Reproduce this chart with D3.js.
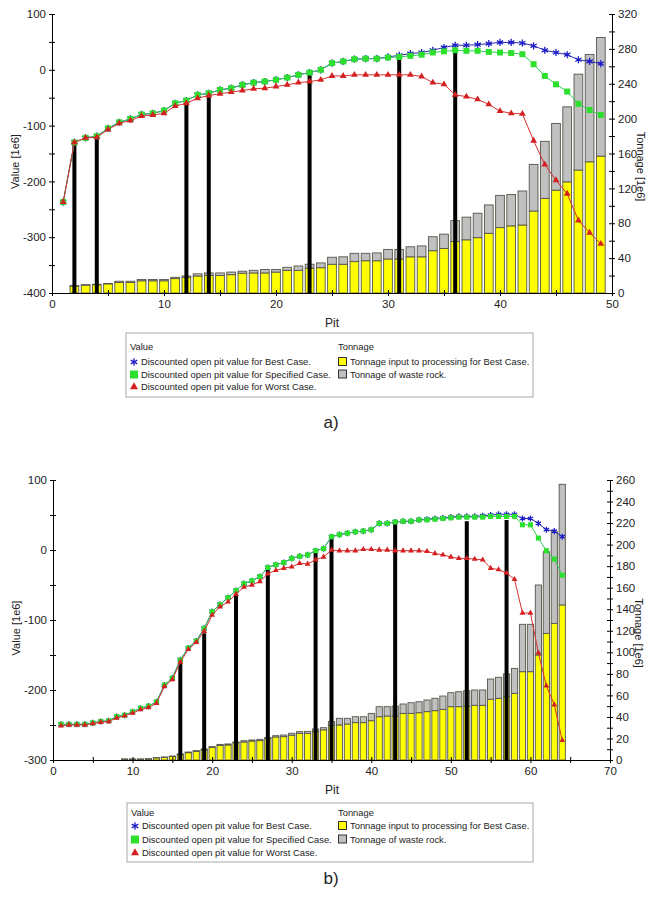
<!DOCTYPE html>
<html>
<head>
<meta charset="utf-8">
<script src="https://cdn.jsdelivr.net/npm/d3@7"></script>
<style>
  body { margin: 0; background: #fff; }
  svg { display: block; }
  text { font-family: "Liberation Sans", Arial, sans-serif; fill: #222; }
</style>
</head>
<body>
<svg id="fig" width="647" height="897"></svg>
<script>
// ---------- Panel a) : 49 pits ----------
const pitsA = d3.range(1, 50);
const bestA = [-237,-130,-122,-119,-105,-94,-88,-80,-78,-73,
               -60,-55,-45,-42,-36,-33,-27,-23,-21,-18,
               -14,-9,-5,0,12,15,19,20,20,23,
               26,29,31,35,40,44,44,45,47,49,
               49,48,43,35,31,27,18,15,11];
const specA = [-237,-130,-122,-119,-105,-94,-88,-80,-78,-73,
               -60,-55,-45,-42,-36,-33,-27,-23,-21,-18,
               -14,-9,-5,0,12,15,19,20,20,22,
               23,25,27,31,33,35,34,34,32,31,
               30,28,10,-11,-26,-39,-61,-72,-81];
const worstA = [-237,-130,-122,-121,-107,-96,-91,-83,-81,-78,
                -65,-60,-51,-46,-43,-40,-37,-34,-33,-30,
                -27,-23,-21,-18,-11,-11,-9,-9,-9,-9,
                -9,-9,-12,-23,-26,-45,-48,-53,-62,-74,
                -78,-79,-127,-170,-198,-222,-270,-292,-312];
const oreA = [0,8,9,9.5,10.5,12,12,14,14,14,
              16.5,18,19.5,20,20,21,22.7,23,23,24,
              26,26,28.5,29,33,33,36,37,37,39,
              39,41.5,41.5,48.5,51,59,61,63.5,68.5,75,
              77,78,94,108.5,118,127.5,141,150.5,157];
const wasteA = [0,0.5,0.5,0.5,0.5,1.5,1.5,1.5,1.5,1.5,
                1.5,1.5,2.5,3,3,3,2.3,3,4,3,
                3.5,5,4.5,5.5,8,8.5,9.5,8.5,9,11,
                11,11.5,12.5,16,16.5,24,26,28,32.5,37,
                36,39,53.5,65.5,76.5,86,110,123,136];
const selPitsA = [2,4,12,14,23,31,36];
const selTopsA = [-133,-122,-60,-49,-9,21,34];

// ---------- Panel b) : 64 pits ----------
const pitsB = d3.range(1, 65);
const bestB = [-249,-249,-249,-249,-247,-245,-244,-238,-236,-231,
               -226,-223,-217,-193,-183,-157,-140,-130,-112,-88,
               -78,-68,-58,-48,-44,-38,-25,-21,-18,-12,
               -9,-7,-1,2,19,22,24,26,27,29,
               38,38,40,41,41,43,44,45,46,47,
               48,48,48,49,50,51,51,51,45,45,
               38,29,27,19];
const specB = [-249,-249,-249,-249,-247,-245,-244,-238,-236,-231,
               -226,-223,-217,-193,-183,-157,-140,-130,-112,-88,
               -78,-68,-58,-48,-44,-38,-25,-21,-18,-12,
               -9,-7,-1,2,19,22,24,26,27,29,
               38,38,40,41,41,43,43,44,45,46,
               47,47,47,47,48,48,48,48,36,36,
               17,-1,-13,-36];
const worstB = [-251,-250,-250,-250,-248,-246,-245,-240,-237,-233,
                -228,-225,-219,-195,-185,-160,-142,-132,-116,-93,
                -81,-74,-63,-53,-50,-45,-34,-29,-26,-24,
                -19,-20,-14,-10,0,-1,-1,-1,1,1,
                0,0,-1,-1,-1,-1,-2,-5,-7,-10,
                -12,-12,-13,-14,-26,-28,-33,-42,-90,-90,
                -147,-194,-221,-272];
const oreB = [0,0,0,0,0,0,0,0,0.8,0.8,
              0.8,1,2,2.5,3.3,5,6.8,8,9.3,11.8,
              13.6,14,16,16.7,17.6,18,19.8,21.4,21.7,23,
              24.8,24.8,26.3,28,32,32.5,33.4,34.7,34.7,36.5,
              40.2,40.8,40.8,43.3,43.3,43.9,44.9,45.8,47,49.5,
              49.5,50,50.8,50.8,56.4,57.3,58.8,61.9,82,82,
              97.5,117.6,126.9,144];
const wasteB = [0,0,0,0,0,0,0,0,0.1,0.1,
                0.1,0.2,0.2,0.3,0.4,0.6,0.6,0.7,0.9,0.6,
                0.9,0.9,0.7,1.2,1,1.2,1.2,1.2,1.5,1.8,
                1.5,1.8,2.5,2,3.6,6.2,5.3,5.5,5.5,6.8,
                9.3,8.7,9.3,8.7,9.9,10.2,10.8,11.5,12.4,13,
                13.9,14.3,14.2,14.2,18.8,19.5,21.1,23.2,44,44,
                65,75.8,85.1,112];
const selPitsB = [16,19,23,27,33,35,43,52,57];
const selTopsB = [-161,-119,-64,-27,-2,19,38,41,43];

// ---------- Legend text ----------
const valueTitle = "Value";
const tonnageTitle = "Tonnage";
const valueLabels = ["Discounted open pit value for Best Case.",
                     "Discounted open pit value for Specified Case.",
                     "Discounted open pit value for Worst Case."];
const tonnageLabels = ["Tonnage input to processing for Best Case.",
                       "Tonnage of waste rock."];

const C = {
  best: "#1c1cc8", bestLine: "#2a2aa8",
  spec: "#2ee02e", specLine: "#33cc55",
  worst: "#d42020", worstLine: "#d83030",
  ore: "#ffff00", waste: "#c0c0c0", barStroke: "#55554a"
};

const svg = d3.select("#fig");

function drawPanel(cfg) {
  const g = svg.append("g");
  const x = d3.scaleLinear().domain([0, cfg.xMax]).range([cfg.left, cfg.right]);
  const yV = d3.scaleLinear().domain(cfg.valueDomain).range([cfg.bottom, cfg.top]);
  const yT = d3.scaleLinear().domain(cfg.tonDomain).range([cfg.bottom, cfg.top]);
  const bw = (x(1) - x(0)) * 0.78;

  // stacked tonnage bars
  const rows = cfg.pits.map((p, i) => ({ p, ore: cfg.ore[i], waste: cfg.waste[i] }))
                       .filter(d => d.ore + d.waste > 0);
  g.append("g").selectAll("rect").data(rows).join("rect")
    .attr("x", d => x(d.p) - bw / 2).attr("width", bw)
    .attr("y", d => yT(d.ore)).attr("height", d => yT(0) - yT(d.ore))
    .attr("fill", C.ore).attr("stroke", C.barStroke).attr("stroke-width", 0.9);
  g.append("g").selectAll("rect").data(rows.filter(d => d.waste > 0)).join("rect")
    .attr("x", d => x(d.p) - bw / 2).attr("width", bw)
    .attr("y", d => yT(d.ore + d.waste)).attr("height", d => yT(d.ore) - yT(d.ore + d.waste))
    .attr("fill", C.waste).attr("stroke", C.barStroke).attr("stroke-width", 0.9);

  // selected pits shown as thick black drop lines
  const sel = cfg.selPits.map((p, i) => ({ p, top: cfg.selTops[i] }));
  g.append("g").selectAll("line").data(sel).join("line")
    .attr("x1", d => x(d.p)).attr("x2", d => x(d.p))
    .attr("y1", yV(cfg.valueDomain[0])).attr("y2", d => yV(d.top))
    .attr("stroke", "#000").attr("stroke-width", 4);

  // value series
  const series = [
    { vals: cfg.best, line: C.bestLine, mark: C.best, sym: d3.symbolAsterisk, size: cfg.sAst, stroke: true },
    { vals: cfg.spec, line: C.specLine, mark: C.spec, sym: d3.symbolSquare, size: cfg.sSq, stroke: false },
    { vals: cfg.worst, line: C.worstLine, mark: C.worst, sym: d3.symbolTriangle, size: cfg.sTri, stroke: false }
  ];
  const line = d3.line().x(d => x(d[0])).y(d => yV(d[1]));
  series.forEach(s => {
    const pts = cfg.pits.map((p, i) => [p, s.vals[i]]);
    g.append("path").datum(pts).attr("d", line)
      .attr("fill", "none").attr("stroke", s.line).attr("stroke-width", 1);
    g.append("g").selectAll("path").data(pts).join("path")
      .attr("transform", d => `translate(${x(d[0])},${yV(d[1])})`)
      .attr("d", d3.symbol(s.sym, s.size))
      .attr("fill", s.stroke ? "none" : s.mark)
      .attr("stroke", s.stroke ? s.mark : "none")
      .attr("stroke-width", s.stroke ? 1.3 : 0);
  });

  // axes
  const styleAxis = sel => {
    sel.selectAll("text").attr("font-size", 11.5)
      .attr("font-family", '"Liberation Sans", Arial, sans-serif').attr("fill", "#222");
    sel.select(".domain").attr("stroke", "#000");
    sel.selectAll(".tick line").attr("stroke", "#000");
  };
  const vStep = cfg.valueStep;
  const gl = g.append("g").attr("transform", `translate(${cfg.left},0)`)
    .call(d3.axisLeft(yV).tickValues(d3.range(cfg.valueDomain[0], cfg.valueDomain[1] + 1, vStep / 2))
      .tickSize(3).tickSizeOuter(0).tickPadding(3)
      .tickFormat(d => d % vStep === 0 ? String(d) : ""));
  styleAxis(gl);
  gl.selectAll(".tick line").attr("x1", 3);

  const gr = g.append("g").attr("transform", `translate(${cfg.right},0)`)
    .call(d3.axisRight(yT).tickValues(d3.range(0, cfg.tonDomain[1] + 1, cfg.tonMinor))
      .tickSize(3).tickSizeOuter(0).tickPadding(3)
      .tickFormat(d => d % cfg.tonMajor === 0 ? String(d) : ""));
  styleAxis(gr);
  gr.selectAll(".tick line").attr("x1", -3);

  const gb = g.append("g").attr("transform", `translate(0,${cfg.bottom})`)
    .call(d3.axisBottom(x).tickValues(d3.range(0, cfg.xMax + 1, 5))
      .tickSize(3).tickSizeOuter(0).tickPadding(4)
      .tickFormat(d => d % 10 === 0 ? String(d) : ""));
  styleAxis(gb);
  gb.selectAll(".tick line").attr("y1", -3);

  // axis titles
  g.append("text").attr("transform", `translate(${cfg.left - 33},${(cfg.top + cfg.bottom) / 2 + 8}) rotate(-90)`)
    .attr("text-anchor", "middle").attr("font-size", 11).text("Value [1e6]");
  g.append("text").attr("transform", `translate(${cfg.right + 25},${(cfg.top + cfg.bottom) / 2 + 13}) rotate(90)`)
    .attr("text-anchor", "middle").attr("font-size", 11).text("Tonnage [1e6]");
  g.append("text").attr("x", 332).attr("y", cfg.bottom + 34)
    .attr("text-anchor", "middle").attr("font-size", 12).text("Pit");

  // legend
  const L = cfg.legend;
  const lg = svg.append("g");
  lg.append("rect").attr("x", L.x0).attr("y", L.y0).attr("width", L.x1 - L.x0).attr("height", L.y1 - L.y0)
    .attr("fill", "#fff").attr("stroke", "#a8a8a8").attr("stroke-width", 1);
  const fs = 9.4;
  lg.append("text").attr("x", L.x0 + 4).attr("y", L.rows[0]).attr("font-size", fs).text(valueTitle);
  lg.append("text").attr("x", 338).attr("y", L.rows[0]).attr("font-size", fs).text(tonnageTitle);
  const legSyms = [
    { sym: d3.symbolAsterisk, size: 40, fill: "none", stroke: C.best },
    { sym: d3.symbolSquare, size: 64, fill: C.spec, stroke: "none" },
    { sym: d3.symbolTriangle, size: 28, fill: C.worst, stroke: "none" }
  ];
  valueLabels.forEach((t, i) => {
    const y = L.rows[i + 1];
    const s = legSyms[i];
    lg.append("path").attr("transform", `translate(${L.x0 + 8},${y - 3})`)
      .attr("d", d3.symbol(s.sym, s.size)).attr("fill", s.fill).attr("stroke", s.stroke).attr("stroke-width", 1.3);
    lg.append("text").attr("x", L.x0 + 15).attr("y", y).attr("font-size", fs).text(t);
  });
  const sw = [C.ore, C.waste];
  tonnageLabels.forEach((t, i) => {
    const y = L.rows[i + 1];
    lg.append("rect").attr("x", 338.5).attr("y", y - 7.5).attr("width", 8).attr("height", 8)
      .attr("fill", sw[i]).attr("stroke", "#333").attr("stroke-width", 1);
    lg.append("text").attr("x", 350).attr("y", y).attr("font-size", fs).text(t);
  });

  svg.append("text").attr("x", 331).attr("y", cfg.caption.y)
    .attr("text-anchor", "middle").attr("font-size", 17)
    .attr("font-family", '"Liberation Serif", "Times New Roman", serif').attr("fill", "#000")
    .text(cfg.caption.text);
}

drawPanel({
  pits: pitsA, best: bestA, spec: specA, worst: worstA, ore: oreA, waste: wasteA,
  selPits: selPitsA, selTops: selTopsA,
  xMax: 50, left: 52, right: 612, top: 14, bottom: 293,
  valueDomain: [-400, 100], valueStep: 100,
  tonDomain: [0, 320], tonMinor: 20, tonMajor: 40,
  sAst: 36, sSq: 36, sTri: 20,
  legend: { x0: 126, x1: 533, y0: 333, y1: 397, rows: [350, 365, 377.5, 390] },
  caption: { text: "a)", y: 428 }
});

drawPanel({
  pits: pitsB, best: bestB, spec: specB, worst: worstB, ore: oreB, waste: wasteB,
  selPits: selPitsB, selTops: selTopsB,
  xMax: 70, left: 53, right: 610, top: 480, bottom: 760,
  valueDomain: [-300, 100], valueStep: 100,
  tonDomain: [0, 260], tonMinor: 10, tonMajor: 20,
  sAst: 26, sSq: 26, sTri: 15,
  legend: { x0: 127, x1: 533, y0: 803, y1: 862, rows: [816, 829, 842.5, 856] },
  caption: { text: "b)", y: 884 }
});
</script>
</body>
</html>
